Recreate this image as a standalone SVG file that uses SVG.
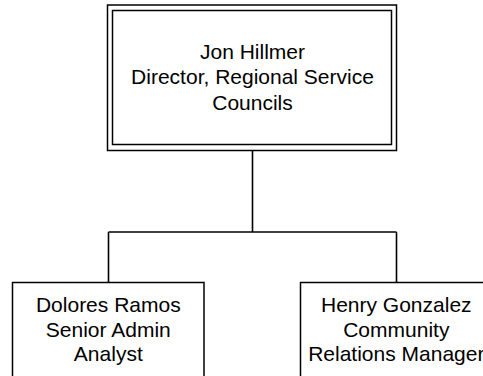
<svg xmlns="http://www.w3.org/2000/svg" width="483" height="376" viewBox="0 0 483 376">
<style>
.box{fill:#fff;stroke:#000;stroke-width:1.5}
.dbl{fill:none;stroke:#000;stroke-width:1.5}
.conn{fill:none;stroke:#000;stroke-width:1.6}
text{font-family:"Liberation Sans",Arial,sans-serif;font-size:21px;fill:#000;text-anchor:middle}
</style>
<rect width="483" height="376" fill="#fff"/>
<g id="connectors">
<path class="conn" d="M252.5,150.5 V232 M108.5,232 H396.5 M108.5,232 V282.5 M396.5,232 V282.5"/>
</g>
<g id="node-director">
<rect class="dbl" x="107.5" y="5" width="289" height="145.5" fill="#fff"/>
<rect class="dbl" x="112.5" y="10.5" width="279" height="134"/>
<text x="252.5" y="58.5">Jon Hillmer</text>
<text x="252.5" y="84">Director, Regional Service</text>
<text x="252.5" y="109.5">Councils</text>
</g>
<g id="node-dolores">
<rect class="box" x="12.5" y="282.5" width="191.5" height="110"/>
<text x="108.3" y="311.5">Dolores Ramos</text>
<text x="108.3" y="336.5">Senior Admin</text>
<text x="108.3" y="361">Analyst</text>
</g>
<g id="node-henry">
<rect class="box" x="300.5" y="282.5" width="191.5" height="110"/>
<text x="396.3" y="311.5">Henry Gonzalez</text>
<text x="396.3" y="336.5">Community</text>
<text x="396.3" y="361">Relations Manager</text>
</g>
</svg>
